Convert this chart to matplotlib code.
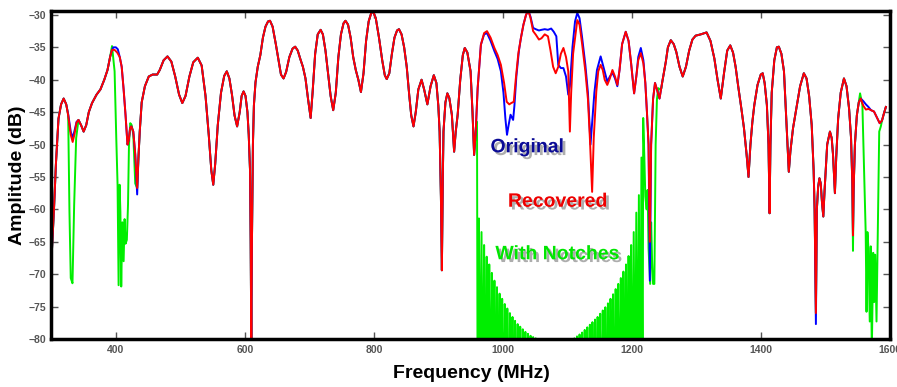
import matplotlib
matplotlib.use("Agg")
import matplotlib.pyplot as plt
import matplotlib.patheffects as pe

plt.rcParams['font.family'] = ['Liberation Sans', 'DejaVu Sans']

# Recovered (red) trace: frequency (MHz), amplitude (dB)
red_f = [301, 304, 307, 311, 315, 319, 323, 326, 330, 333, 336, 339, 342, 346, 350, 354, 358, 363,
         370, 376, 382, 387, 391, 394, 398, 402, 406, 409, 412, 415, 418, 420, 422, 424, 427, 430,
         433, 435, 437, 440, 445, 451, 457, 464, 468, 474, 480, 486, 492, 498, 503, 508, 514, 520,
         527, 533, 539, 544, 548, 551, 554, 558, 563, 568, 572, 576, 580, 584, 588, 592, 595, 598,
         601, 604, 606, 608, 609, 610, 611, 612.5, 614, 616.5, 620, 624, 628, 632, 636, 639, 643,
         648, 653, 656, 660, 664, 669, 674, 678, 682, 686, 690, 694, 698, 702, 705, 709, 713, 717.5,
         721, 725, 729, 733, 737, 741, 745, 749, 753, 756, 760, 764, 768, 772, 776, 780, 784, 788,
         792, 796, 799, 803, 808, 813, 817, 820, 824, 828, 832, 836, 839, 843, 847, 851, 855, 858,
         861.5, 865, 869, 874, 878, 883, 888, 893, 897, 900, 902, 904, 905.5, 907, 908, 911, 914,
         917, 921, 924.5, 927, 930, 934, 938, 941, 945, 950, 953, 955.5, 958, 961, 966, 971, 975.5,
         981, 987, 992, 997, 1002, 1006, 1010, 1013, 1017, 1020, 1024, 1028, 1032, 1036, 1039.5,
         1043, 1047, 1051.5, 1056, 1060, 1065, 1070, 1074, 1078, 1082, 1086, 1090, 1094, 1098,
         1101.5, 1104, 1106, 1109, 1112, 1115.5, 1119, 1123, 1128, 1132, 1135, 1138.5, 1141, 1145,
         1148, 1151.7, 1155, 1158, 1162, 1166, 1170, 1174, 1177.6, 1181, 1185, 1190.6, 1195, 1199,
         1203.6, 1207, 1210, 1214, 1218, 1221, 1223.5, 1226, 1228, 1230, 1233, 1236, 1239, 1243,
         1247, 1252.8, 1256, 1260.5, 1265, 1269, 1274, 1279, 1284, 1289, 1294, 1299, 1307, 1316,
         1322, 1328, 1333, 1338, 1343, 1348, 1352.7, 1357, 1361, 1365, 1370, 1374, 1378, 1381,
         1384, 1387, 1390, 1395, 1400, 1403, 1406, 1409.5, 1412, 1413.7, 1415, 1417, 1421, 1425,
         1428, 1432, 1436, 1439, 1441, 1443.5, 1446, 1450, 1456, 1461, 1466.8, 1471, 1475, 1479,
         1482, 1483.5, 1485.5, 1487, 1489, 1491, 1493, 1495, 1497, 1499, 1503, 1507.3, 1510, 1512,
         1515, 1517, 1520, 1524, 1529, 1533, 1537, 1540, 1542, 1543, 1544, 1546, 1549, 1552, 1555,
         1559, 1563, 1567, 1571, 1575.6, 1580, 1584.4, 1588, 1591, 1594]
red_db = [-66, -60, -53, -46, -43.8, -42.9, -43.8, -45.5, -48.5, -49.6, -48.3, -46.6, -46.2, -47, -48,
          -47, -45, -43.6, -42.3, -41.5, -40, -38.5, -36.5, -35.4, -35.4, -35.8, -36.5, -38, -41.5,
          -45.5, -50, -49.3, -47.5, -47.2, -48, -51.5, -56.7, -52, -48, -43.5, -41, -39.5, -39.2,
          -39.2, -38.5, -37, -36.4, -37.2, -39.5, -42.3, -43.6, -42.5, -39.5, -37.3, -36.6, -37.8,
          -42.5, -48.5, -54, -56.2, -53, -47, -42, -39.4, -38.7, -39.8, -42.3, -45.5, -47.2, -45,
          -42.5, -41.8, -42.5, -45, -48.5, -54, -65, -81, -65, -50, -44, -40.4, -38, -36.2, -33.5,
          -31.8, -31, -30.9, -31.8, -34.5, -37.5, -39.2, -39.8, -38.8, -36.5, -35.2, -34.9, -35.5,
          -36.8, -38, -39.8, -43, -45.9, -42, -36, -33, -32.3, -33, -35.5, -39, -42.5, -44.7, -42,
          -36.5, -33, -31.3, -30.9, -31.5, -33.5, -36.5, -38.5, -40, -41.9, -39, -34, -31, -29.7,
          -29.5, -30.5, -33.5, -37, -39.3, -39.9, -39, -36, -33.5, -32.4, -32.2, -33, -35, -38,
          -42.5, -45.5, -47.2, -45, -41.5, -40, -41.5, -43.8, -41, -39.3, -40.5, -44, -48, -58,
          -69.4, -55, -48, -43.5, -42.1, -42.8, -45.4, -51.1, -48, -45.4, -40, -36.2, -35.1, -35.8,
          -38.7, -45, -51.6, -48, -41.3, -34.6, -32.8, -32.5, -33.5, -35.1, -36.2, -37.7, -40.5,
          -43.4, -43.8, -43.6, -43.4, -40, -36, -33.6, -31.5, -30, -29.3, -30.5, -32.5, -33.1,
          -33.8, -33.6, -33, -33.3, -35.5, -38, -39, -38, -36, -35.1, -36.5, -38.7, -48, -42, -36,
          -33.6, -30.8, -31.5, -34.5, -38.7, -43, -49, -57.3, -49, -41.8, -38.7, -37.7, -38.5, -40,
          -40.8, -39.8, -38.5, -39.5, -40.8, -38.5, -34.5, -32.6, -34, -37.5, -42.1, -39.5, -37,
          -35.9, -37.5, -40.5, -45, -50, -65, -50, -43, -40.5, -41.5, -42.9, -40.5, -37.2, -35,
          -33.9, -34.5, -35.7, -38, -39.5, -38, -35.5, -33.8, -33.2, -33, -32.7, -34, -36.7, -40,
          -42.9, -39, -35.5, -34.7, -35.8, -38, -41, -44.5, -47.5, -51.5, -55, -50, -46.5, -43.9,
          -40.8, -39.2, -39, -40.5, -43.9, -50, -60.6, -50, -42, -37, -35, -34.9, -36, -38.7, -45,
          -49.5, -54.2, -51, -47.5, -43.9, -41, -39, -39.8, -42.5, -47, -54, -60, -76, -60, -56.5,
          -55.2, -56, -59, -61.1, -57, -50, -48, -49, -51.5, -57.5, -52, -46, -42, -39.8, -41,
          -44.5, -49, -56, -64, -57, -50, -45.5, -43.5, -42.9, -44, -44.6, -44.5, -44.7, -44.9,
          -45.8, -46.7, -46.3, -45.2, -44.2]

# Original (blue) trace: where it differs from the recovered one
blue_segments = [
    ([326, 330, 333, 336, 339], [-45.3, -48, -49, -47.8, -46.5]),
    ([396, 400, 403, 406], [-35, -35, -35.3, -36.5]),
    ([430, 433, 435], [-51.5, -57.7, -52]),
    ([971, 975.5, 981, 987, 992, 997, 1001, 1004, 1006.5, 1009, 1012, 1014, 1016, 1018, 1021,
      1025, 1028, 1032, 1036, 1039.5, 1043, 1047, 1051, 1056, 1060, 1065, 1070, 1075, 1079,
      1083, 1086, 1090, 1094, 1098, 1101.5, 1104, 1108, 1112, 1115.5, 1119, 1123, 1128, 1132,
      1136, 1139, 1142, 1146, 1151.7, 1156, 1162, 1166, 1170, 1174, 1177.6, 1181],
     [-33, -32.8, -34, -35.6, -36.8, -38.7, -42, -46, -48.5, -47, -45.4, -45.8, -46.2, -44, -39.5,
      -35.5, -33.6, -31.5, -30, -29.3, -30.3, -32, -32.2, -32.4, -32.3, -32.2, -32.3, -32.1,
      -32.6, -33.3, -37.7, -38.2, -38.2, -39.5, -42.3, -41, -35, -31, -29.7, -30.5, -33.5, -37.7,
      -42, -50, -46, -42, -38.5, -36.4, -38, -40.3, -39.5, -38.9, -39.8, -41, -38.5]),
    ([1210, 1214, 1218], [-36.5, -35.1, -37]),
    ([1226, 1228, 1230], [-50, -71, -50]),
    ([1483.5, 1485.5, 1487], [-60, -77.7, -60]),
    ([1559, 1563, 1567], [-43.3, -43.8, -44.2]),
]

# Notched (green) trace: where it differs from the recovered one
green_segments = [
    ([326, 328, 330, 332.7, 335.3, 338.4, 342], [-45.4, -60.4, -70.6, -71.4, -59.3, -49, -46.2]),
    ([394, 398, 400.6, 402.6, 404.2, 405.7, 407, 408.3, 410, 412, 413.5, 415, 417, 418.8, 420.3,
      422.3, 424.5, 427, 430, 432],
     [-34.8, -38.7, -49, -56.2, -71.7, -56.2, -60.4, -71.9, -62, -68, -61.5, -65.3, -64.7, -59.3,
      -50, -46.7, -47, -48.5, -56, -56.5]),
    ([1543], [-66.4]),
    ([1554, 1557.6, 1560.2, 1562.7, 1564, 1565.4, 1567, 1569, 1570.6, 1572.2, 1574.4, 1575.9,
      1577.5, 1579.5, 1581.3, 1583.7, 1586.2],
     [-42.1, -43.9, -54.2, -63.5, -75.8, -63.5, -66, -77.3, -65.7, -82, -66.7, -74.3, -67, -77.3,
      -65, -48, -47.2]),
]

# big notch: edges and comb teeth tips
notch_lead_f = [955.5, 958, 960, 961.5]
notch_lead_db = [-51.6, -48, -46.5, -95]
comb_f = [963, 967, 971, 975, 979, 983, 987, 991, 995, 999, 1003, 1007, 1011, 1015, 1019, 1023,
          1027, 1031, 1035, 1039, 1043, 1047, 1051, 1055, 1111, 1115, 1119, 1123, 1127, 1131, 1135,
          1139, 1143, 1147, 1151, 1155, 1159, 1163, 1167, 1171, 1175, 1179, 1183, 1187, 1191, 1195,
          1199, 1203, 1207, 1211, 1215]
comb_db = [-61.4, -63.5, -65.5, -67.3, -68.5, -69.8, -71, -72, -73, -73.8, -74.6, -75.3, -76,
           -76.6, -77.2, -77.7, -78.1, -78.5, -78.9, -79.2, -79.5, -79.7, -79.9, -80.2, -79.9,
           -79.6, -79.3, -79, -78.6, -78.2, -77.8, -77.4, -77, -76.6, -76.1, -75.6, -75.1, -74.5,
           -73.8, -73.1, -72.3, -71.5, -70.6, -69.6, -68.5, -67.2, -65.5, -63.5, -60.5, -57.8, -52]
comb_floor = -95
notch_tail_f = [1216.8, 1217.7, 1219.5, 1221, 1223, 1224.5, 1226, 1228.5, 1230, 1231.5, 1233,
                1235, 1237, 1239, 1241, 1244, 1246]
notch_tail_db = [-95, -45.9, -52, -58, -60, -57, -66, -71.5, -62, -68, -71.5, -71.5, -50, -43,
                 -41.3, -41.5, -41.3]


def splice(base_f, base_v, seg_f, seg_v):
    pts = [(f, v) for f, v in zip(base_f, base_v) if f < seg_f[0] or f > seg_f[-1]]
    pts += list(zip(seg_f, seg_v))
    pts.sort()
    return [p[0] for p in pts], [p[1] for p in pts]


blue_f, blue_db = red_f, red_db
for sf, sv in blue_segments:
    blue_f, blue_db = splice(blue_f, blue_db, sf, sv)

nf, nv = list(notch_lead_f), list(notch_lead_db)
for t, v in zip(comb_f, comb_db):
    nf += [t - 2, t]
    nv += [comb_floor, v]
nf += notch_tail_f
nv += notch_tail_db

green_f, green_db = splice(red_f, red_db, nf, nv)
for sf, sv in green_segments:
    green_f, green_db = splice(green_f, green_db, sf, sv)

fig = plt.figure(figsize=(8.97, 3.87), dpi=100)
ax = fig.add_axes([0.0573, 0.124, 0.9346, 0.8475])

ax.plot(green_f, green_db, color='#00ee00', lw=1.4)
ax.plot(blue_f, blue_db, color='#0000ff', lw=1.4)
ax.plot(red_f, red_db, color='#ff0000', lw=1.4)

ax.set_xlim(300, 1600)
ax.set_ylim(-80, -29.4)
ax.set_xticks([400, 600, 800, 1000, 1200, 1400, 1600])
ax.set_yticks(range(-80, -29, 5))
ax.tick_params(direction='in', length=5, width=1, top=True, right=True,
               labelsize=7.5, labelcolor='#555555', color='#555555', pad=4)
for lab in ax.get_xticklabels() + ax.get_yticklabels():
    lab.set_fontweight('bold')
for sp in ax.spines.values():
    sp.set_linewidth(2.5)
    sp.set_color('black')

# axis titles placed where the reference has them
fig.text(471 / 897, 1 - 373 / 387, 'Frequency (MHz)', fontsize=14, fontweight='bold',
         ha='center', va='center')
fig.text(18 / 897, 1 - 175 / 387, 'Amplitude (dB)', fontsize=14, fontweight='bold',
         ha='center', va='center', rotation=90)

shadow = [pe.withSimplePatchShadow(offset=(2, -2), shadow_rgbFace='#777777', alpha=0.6)]
ax.text(1038, -50.5, 'Original', color='#0a0a96', fontsize=14, fontweight='bold',
        ha='center', va='center', path_effects=shadow)
ax.text(1085, -58.9, 'Recovered', color='#ee0000', fontsize=14, fontweight='bold',
        ha='center', va='center', path_effects=shadow)
ax.text(1085, -67.0, 'With Notches', color='#00e600', fontsize=14, fontweight='bold',
        ha='center', va='center', path_effects=shadow)

fig.savefig('out.png', dpi=100)
